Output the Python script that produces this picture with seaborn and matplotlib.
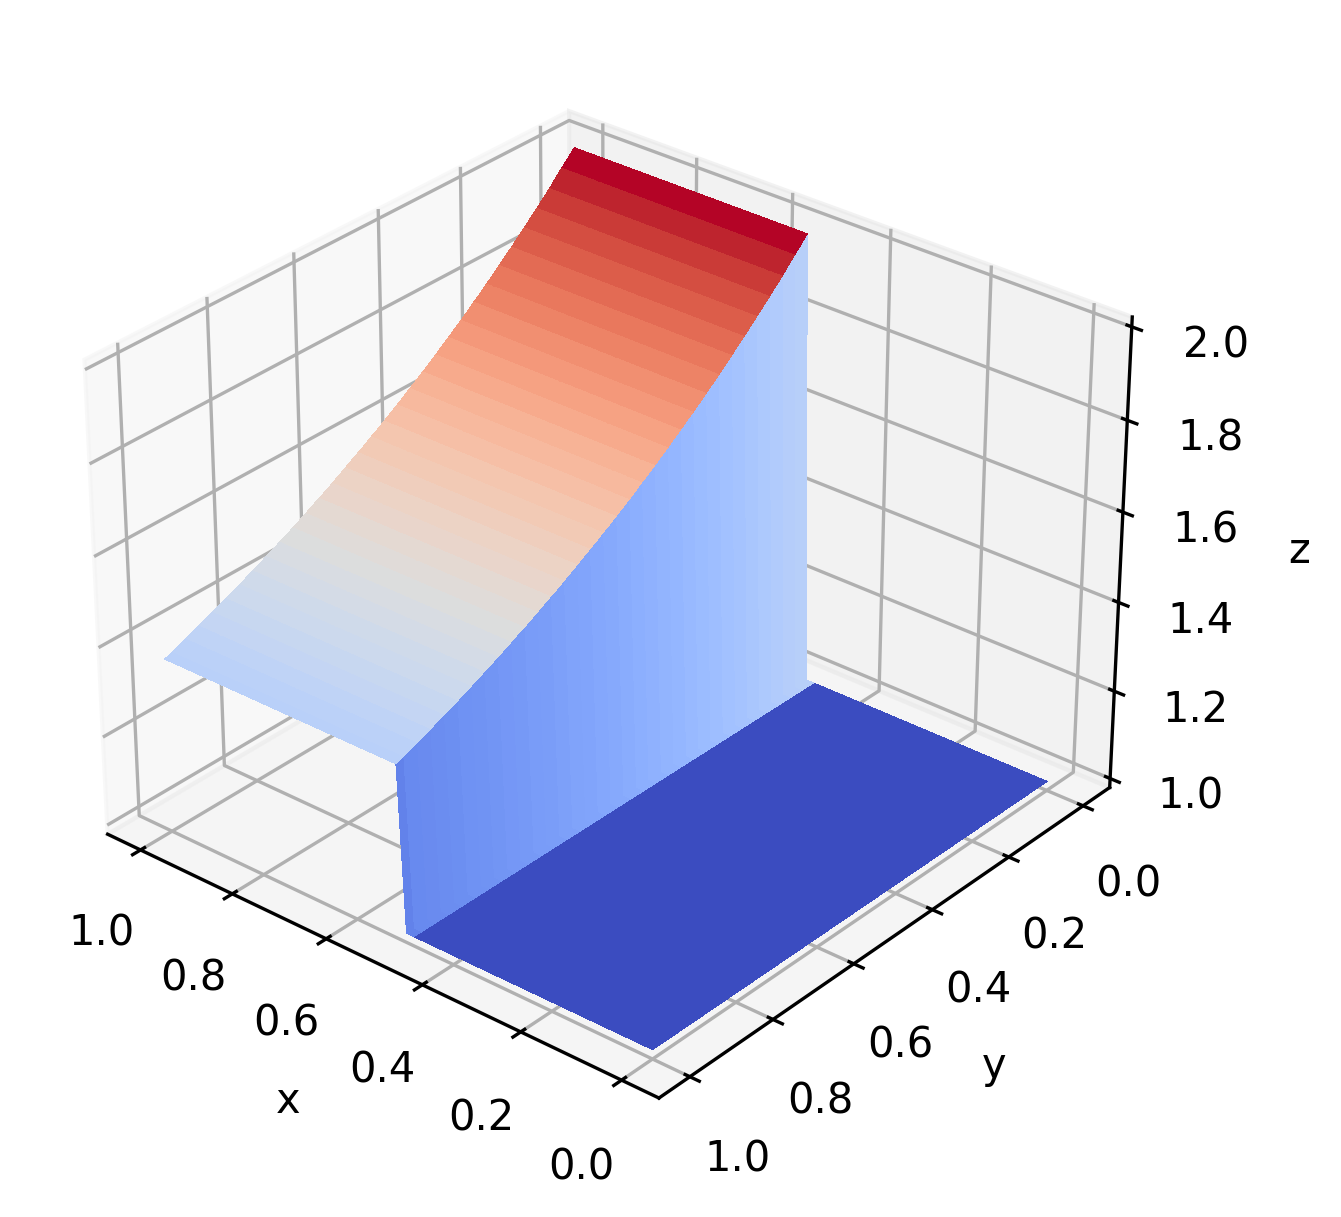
import matplotlib
matplotlib.use("Agg")
import matplotlib.pyplot as plt
import numpy as np
import seaborn as sns

# samples along x, 64 of them
x_values = [
    0.000, 0.016, 0.032, 0.048, 0.063, 0.079, 0.095, 0.111, 0.127, 0.143, 0.159, 0.175, 0.190,
    0.206, 0.222, 0.238, 0.254, 0.270, 0.286, 0.302, 0.317, 0.333, 0.349, 0.365, 0.381, 0.397,
    0.413, 0.429, 0.444, 0.460, 0.482, 0.497, 0.512, 0.524, 0.540, 0.556, 0.571, 0.587, 0.603,
    0.619, 0.635, 0.651, 0.667, 0.683, 0.698, 0.714, 0.730, 0.746, 0.762, 0.778, 0.794, 0.810,
    0.825, 0.841, 0.857, 0.873, 0.889, 0.905, 0.921, 0.937, 0.952, 0.968, 0.984, 1.000,
]

# samples along y, 64 of them
y_values = [
    0.000, 0.016, 0.032, 0.048, 0.063, 0.079, 0.095, 0.111, 0.127, 0.143, 0.159, 0.175, 0.190,
    0.206, 0.222, 0.238, 0.254, 0.270, 0.286, 0.302, 0.317, 0.333, 0.349, 0.365, 0.381, 0.397,
    0.413, 0.429, 0.444, 0.460, 0.476, 0.492, 0.508, 0.524, 0.540, 0.556, 0.571, 0.587, 0.603,
    0.619, 0.635, 0.651, 0.667, 0.683, 0.698, 0.714, 0.730, 0.746, 0.762, 0.778, 0.794, 0.810,
    0.825, 0.841, 0.857, 0.873, 0.889, 0.905, 0.921, 0.937, 0.952, 0.968, 0.984, 1.000,
]

# height of the raised part above z=1, read along y
ridge_height = [
    1.000, 0.984, 0.969, 0.954, 0.938, 0.924, 0.909, 0.895, 0.881, 0.867, 0.853, 0.840, 0.827,
    0.814, 0.801, 0.788, 0.776, 0.763, 0.751, 0.740, 0.728, 0.717, 0.705, 0.694, 0.683, 0.672,
    0.662, 0.651, 0.641, 0.631, 0.621, 0.611, 0.602, 0.592, 0.583, 0.574, 0.565, 0.556, 0.547,
    0.538, 0.530, 0.522, 0.513, 0.505, 0.497, 0.490, 0.482, 0.474, 0.467, 0.459, 0.452, 0.445,
    0.438, 0.431, 0.424, 0.418, 0.411, 0.405, 0.398, 0.392, 0.386, 0.380, 0.374, 0.368,
]

# 0 on the flat part, 1 on the raised part, along x
step_profile = [0] * 32 + [1] * 32

base_level = 1.0

X, Y = np.meshgrid(x_values, y_values, indexing="ij")
Z = base_level + np.outer(step_profile, ridge_height)

W, H = 1341, 1218
ax_w, ax_h = 1488 * 1.07, 1056 * 1.07
fig = plt.figure(figsize=(W / 300, H / 300), dpi=300)
ax = fig.add_axes(
    [(596.5 - ax_w / 2) / W, (622 - ax_h / 2) / H, ax_w / W, ax_h / H], projection="3d"
)

ax.plot_surface(
    X, Y, Z, cmap=sns.color_palette("coolwarm", as_cmap=True),
    linewidth=0, antialiased=False,
)
ax.view_init(elev=30, azim=130)
ax.set_xlabel("x")
ax.set_ylabel("y")
ax.set_zlabel("z")

fig.savefig("out.png", dpi=300)
